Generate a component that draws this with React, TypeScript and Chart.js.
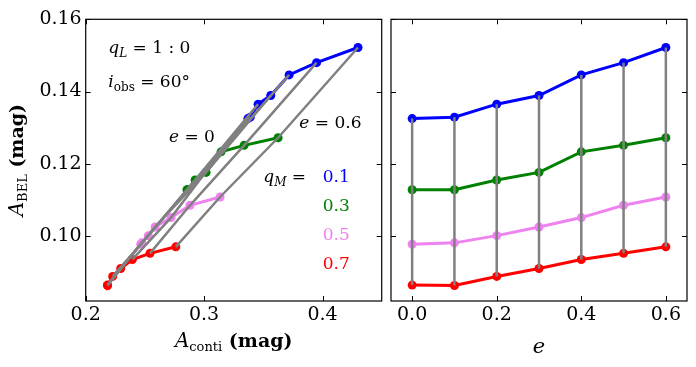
import { useEffect, useRef } from "react";
import { Chart, registerables } from "chart.js";

Chart.register(...registerables);

// ---------------- data ----------------
const eValues = [0, 0.1, 0.2, 0.3, 0.4, 0.5, 0.6];
const qMLabels = ["0.1", "0.3", "0.5", "0.7"];
const qMColors = ["#0000ff", "#008000", "#ee82ee", "#ff0000"];

// A_conti (mag) for each q_M, indexed by e
const contiQ01 = [0.337, 0.339, 0.3456, 0.3563, 0.3718, 0.395, 0.43];
const contiQ03 = [0.2855, 0.2862, 0.2924, 0.3017, 0.3143, 0.3338, 0.3625];
const contiQ05 = [0.2465, 0.2473, 0.2529, 0.2586, 0.2721, 0.2881, 0.3135];
const contiQ07 = [0.2183, 0.2185, 0.2228, 0.2296, 0.2394, 0.2543, 0.2761];

// A_BEL (mag) for each q_M, indexed by e
const belQ01 = [0.1325, 0.1329, 0.1365, 0.1389, 0.1446, 0.148, 0.1522];
const belQ03 = [0.1128, 0.1128, 0.1155, 0.1176, 0.1233, 0.1251, 0.1272];
const belQ05 = [0.0977, 0.0981, 0.1001, 0.1025, 0.1051, 0.1085, 0.1108];
const belQ07 = [0.0864, 0.0863, 0.0888, 0.091, 0.0935, 0.0952, 0.097];

const leftXTicks = [0.2, 0.3, 0.4];
const rightXTicks = [0.0, 0.2, 0.4, 0.6];
const yTicks = [0.1, 0.12, 0.14, 0.16];

const contiSeries = [contiQ01, contiQ03, contiQ05, contiQ07];
const belSeries = [belQ01, belQ03, belQ05, belQ07];

// ---------------- styling ----------------
const SERIF = "'DejaVu Serif', serif";
const W = 696;
const H = 367;
const TOP = 19.3;
const BOTTOM = 301;
const GREY = "#808080";

type Part = { t: string; f: string; dy?: number; c?: string };

function drawRich(ctx: CanvasRenderingContext2D, parts: Part[], x: number, y: number, align: "left" | "center" | "right") {
  let total = 0;
  for (const p of parts) {
    ctx.font = p.f;
    total += ctx.measureText(p.t).width;
  }
  let cx = align === "left" ? x : align === "center" ? x - total / 2 : x - total;
  ctx.textAlign = "left";
  ctx.textBaseline = "alphabetic";
  for (const p of parts) {
    ctx.font = p.f;
    ctx.fillStyle = p.c ?? "#000";
    ctx.fillText(p.t, cx, y + (p.dy ?? 0));
    cx += ctx.measureText(p.t).width;
  }
}

function framePlugin(xTicks: number[], extra?: (chart: any) => void) {
  return {
    id: "frame",
    afterDraw(chart: any) {
      const { ctx, chartArea: a, scales } = chart;
      ctx.save();
      ctx.strokeStyle = "#000";
      ctx.lineWidth = 1.2;
      ctx.strokeRect(a.left, a.top, a.right - a.left, a.bottom - a.top);
      const L = 5;
      ctx.lineWidth = 1;
      ctx.beginPath();
      for (const v of xTicks) {
        const px = Math.round(scales.x.getPixelForValue(v)) + 0.5;
        ctx.moveTo(px, a.bottom);
        ctx.lineTo(px, a.bottom - L);
        ctx.moveTo(px, a.top);
        ctx.lineTo(px, a.top + L);
      }
      for (const v of yTicks) {
        const py = Math.round(scales.y.getPixelForValue(v)) + 0.5;
        ctx.moveTo(a.left, py);
        ctx.lineTo(a.left + L, py);
        ctx.moveTo(a.right, py);
        ctx.lineTo(a.right - L, py);
      }
      ctx.stroke();
      if (extra) extra(chart);
      ctx.restore();
    },
  };
}

function colouredSets(xs: (i: number, k: number) => number) {
  return belSeries.map((bel, k) => ({
    label: "q_M = " + qMLabels[k],
    data: bel.map((b, i) => ({ x: xs(i, k), y: b })),
    showLine: true,
    borderColor: qMColors[k],
    backgroundColor: qMColors[k],
    pointBackgroundColor: qMColors[k],
    pointBorderColor: qMColors[k],
    borderWidth: 3,
    pointRadius: 4.5,
    pointBorderWidth: 0,
    order: 1,
  }));
}

function greySets(xs: (i: number, k: number) => number) {
  return eValues.map((e, i) => ({
    label: "e = " + e,
    data: belSeries.map((bel, k) => ({ x: xs(i, k), y: bel[i] })),
    showLine: true,
    borderColor: GREY,
    backgroundColor: GREY,
    borderWidth: 2.5,
    pointRadius: 0,
    order: 0,
  }));
}

const tickFont = { family: SERIF, size: 19 };

export default function App() {
  const leftRef = useRef<HTMLCanvasElement>(null);
  const rightRef = useRef<HTMLCanvasElement>(null);

  useEffect(() => {
    const leftX = (i: number, k: number) => contiSeries[k][i];
    const rightX = (i: number) => eValues[i];

    const leftChart = new Chart(leftRef.current!, {
      type: "scatter",
      data: { datasets: [...colouredSets(leftX), ...greySets(leftX)] as any },
      options: {
        responsive: false,
        animation: false,
        devicePixelRatio: 1,
        layout: { padding: { left: 0, right: W - 381.7, top: TOP, bottom: 0 } },
        plugins: { legend: { display: false }, tooltip: { enabled: false } },
        scales: {
          x: {
            type: "linear",
            min: 0.2,
            max: 0.45,
            afterBuildTicks: (s: any) => {
              s.ticks = leftXTicks.map((v) => ({ value: v }));
            },
            afterFit: (s: any) => {
              s.height = H - BOTTOM;
            },
            grid: { display: false, drawTicks: false },
            border: { display: false },
            ticks: {
              font: tickFont,
              color: "#000",
              padding: 3,
              maxRotation: 0,
              autoSkip: false,
              callback: (v: any) => Number(v).toFixed(1),
            },
          },
          y: {
            type: "linear",
            min: 0.082,
            max: 0.16,
            afterBuildTicks: (s: any) => {
              s.ticks = yTicks.map((v) => ({ value: v }));
            },
            afterFit: (s: any) => {
              s.width = 85.7;
            },
            grid: { display: false, drawTicks: false },
            border: { display: false },
            ticks: {
              font: tickFont,
              color: "#000",
              padding: 4,
              autoSkip: false,
              callback: (v: any) => Number(v).toFixed(2),
            },
          },
        },
      },
      plugins: [
        framePlugin(leftXTicks, (chart: any) => {
          const ctx = chart.ctx as CanvasRenderingContext2D;
          const a = chart.chartArea;
          const it = (s: number) => `italic ${s}px ${SERIF}`;
          const rm = (s: number) => `${s}px ${SERIF}`;
          const bd = (s: number) => `bold ${s}px ${SERIF}`;
          // annotations
          drawRich(ctx, [{ t: "q", f: it(17) }, { t: "L", f: it(12), dy: 4 }, { t: " = 1 : 0", f: rm(17) }], 108.3, 53.3, "left");
          drawRich(ctx, [{ t: "i", f: it(17) }, { t: "obs", f: rm(12), dy: 4 }, { t: " = 60°", f: rm(17) }], 108.3, 86.7, "left");
          drawRich(ctx, [{ t: "e", f: it(17) }, { t: " = 0", f: rm(17) }], 169, 142.3, "left");
          drawRich(ctx, [{ t: "e", f: it(17) }, { t: " = 0.6", f: rm(17) }], 299.3, 128.3, "left");
          drawRich(ctx, [{ t: "q", f: it(17) }, { t: "M", f: it(12), dy: 4 }, { t: " =", f: rm(17) }], 263.3, 181.7, "left");
          const baselines = [181.7, 211, 240, 269.3];
          qMLabels.forEach((lab, k) => {
            drawRich(ctx, [{ t: lab, f: rm(17), c: qMColors[k] }], 322.7, baselines[k], "left");
          });
          // x title
          drawRich(
            ctx,
            [{ t: "A", f: it(20) }, { t: "conti", f: rm(13), dy: 4 }, { t: " (mag)", f: bd(19) }],
            (a.left + a.right) / 2,
            347,
            "center"
          );
          // y title
          ctx.save();
          ctx.translate(23, (a.top + a.bottom) / 2);
          ctx.rotate(-Math.PI / 2);
          drawRich(ctx, [{ t: "A", f: it(20) }, { t: "BEL", f: rm(13), dy: 4 }, { t: " (mag)", f: bd(19) }], 0, 0, "center");
          ctx.restore();
        }),
      ],
    });

    const rightChart = new Chart(rightRef.current!, {
      type: "scatter",
      data: { datasets: [...colouredSets(rightX), ...greySets(rightX)] as any },
      options: {
        responsive: false,
        animation: false,
        devicePixelRatio: 1,
        layout: { padding: { left: 391, right: W - 687, top: TOP, bottom: 0 } },
        plugins: { legend: { display: false }, tooltip: { enabled: false } },
        scales: {
          x: {
            type: "linear",
            min: -0.05,
            max: 0.65,
            afterBuildTicks: (s: any) => {
              s.ticks = rightXTicks.map((v) => ({ value: v }));
            },
            afterFit: (s: any) => {
              s.height = H - BOTTOM;
            },
            grid: { display: false, drawTicks: false },
            border: { display: false },
            ticks: {
              font: tickFont,
              color: "#000",
              padding: 3,
              maxRotation: 0,
              autoSkip: false,
              callback: (v: any) => Number(v).toFixed(1),
            },
          },
          y: {
            type: "linear",
            min: 0.082,
            max: 0.16,
            afterBuildTicks: (s: any) => {
              s.ticks = yTicks.map((v) => ({ value: v }));
            },
            afterFit: (s: any) => {
              s.width = 0;
            },
            grid: { display: false, drawTicks: false },
            border: { display: false },
            ticks: { display: false },
          },
        },
      },
      plugins: [
        framePlugin(rightXTicks, (chart: any) => {
          const ctx = chart.ctx as CanvasRenderingContext2D;
          const a = chart.chartArea;
          drawRich(ctx, [{ t: "e", f: `italic 21px ${SERIF}` }], (a.left + a.right) / 2, 352.5, "center");
        }),
      ],
    });

    return () => {
      leftChart.destroy();
      rightChart.destroy();
    };
  }, []);

  return (
    <div style={{ position: "fixed", left: 0, top: 0, width: W, height: H, background: "#fff" }}>
      <canvas ref={leftRef} width={W} height={H} style={{ position: "absolute", left: 0, top: 0, width: W, height: H }} />
      <canvas ref={rightRef} width={W} height={H} style={{ position: "absolute", left: 0, top: 0, width: W, height: H }} />
    </div>
  );
}
